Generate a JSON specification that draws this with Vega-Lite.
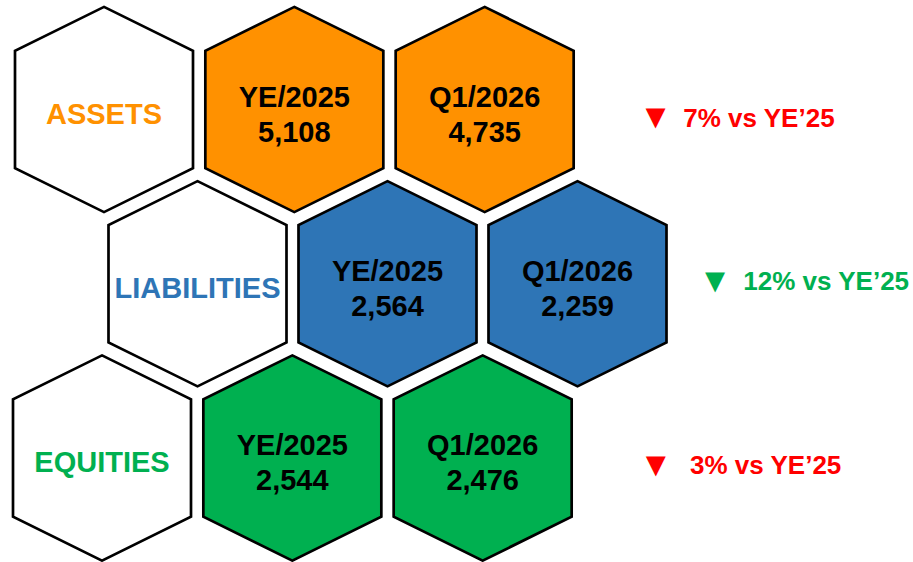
{
  "$schema": "https://vega.github.io/schema/vega-lite/v6.json",
  "width": 913,
  "height": 562,
  "autosize": {"type": "none"},
  "padding": 0,
  "background": "white",
  "config": {
    "view": {"stroke": null},
    "text": {"font": "Liberation Sans", "fontWeight": "bold"}
  },
  "datasets": {
    "hexes": [
      {"metric": "ASSETS", "period": "label", "caption": "ASSETS", "value": null},
      {"metric": "ASSETS", "period": "YE/2025", "caption": "YE/2025", "value": 5108},
      {"metric": "ASSETS", "period": "Q1/2026", "caption": "Q1/2026", "value": 4735},
      {"metric": "LIABILITIES", "period": "label", "caption": "LIABILITIES", "value": null},
      {"metric": "LIABILITIES", "period": "YE/2025", "caption": "YE/2025", "value": 2564},
      {"metric": "LIABILITIES", "period": "Q1/2026", "caption": "Q1/2026", "value": 2259},
      {"metric": "EQUITIES", "period": "label", "caption": "EQUITIES", "value": null},
      {"metric": "EQUITIES", "period": "YE/2025", "caption": "YE/2025", "value": 2544},
      {"metric": "EQUITIES", "period": "Q1/2026", "caption": "Q1/2026", "value": 2476}
    ],
    "changes": [
      {"metric": "ASSETS", "period": "change", "pct": 7, "label": "7% vs YE’25", "direction": "down", "assessment": "unfavorable"},
      {"metric": "LIABILITIES", "period": "change", "pct": 12, "label": "12% vs YE’25", "direction": "down", "assessment": "favorable"},
      {"metric": "EQUITIES", "period": "change", "pct": 3, "label": "3% vs YE’25", "direction": "down", "assessment": "unfavorable"}
    ]
  },
  "resolve": {"scale": {"x": "independent"}},
  "layer": [
    {
      "encoding": {
        "x": {"field": "period", "type": "nominal", "axis": null, "scale": {"type": "point", "domain": ["label", "YE/2025", "Q1/2026", "change"], "range": [104, 675], "padding": 0}},
        "y": {"field": "metric", "type": "nominal", "axis": null, "scale": {"type": "point", "domain": ["ASSETS", "LIABILITIES", "EQUITIES"], "range": [109.5, 458], "padding": 0}}
      },
      "layer": [
        {
          "data": {"name": "hexes"},
          "transform": [{"filter": "datum.metric === 'ASSETS'"}],
          "mark": {"type": "point", "shape": "M0,-1.153L1,-0.66L1,0.66L0,1.153L-1,0.66L-1,-0.66Z", "size": 31684, "filled": true, "stroke": "black", "strokeWidth": 2.7, "opacity": 1},
          "encoding": {"fill": {"condition": {"test": "datum.period === 'label'", "value": "white"}, "field": "metric", "type": "nominal", "legend": null, "scale": {"domain": ["ASSETS", "LIABILITIES", "EQUITIES"], "range": ["#FF9100", "#2E75B6", "#00B050"]}}}
        },
        {
          "data": {"name": "hexes"},
          "transform": [{"filter": "datum.metric === 'ASSETS' && datum.period === 'label'"}],
          "mark": {"type": "text", "fontSize": 29, "baseline": "alphabetic", "dy": 14},
          "encoding": {"text": {"field": "caption"}, "fill": {"field": "metric", "type": "nominal", "legend": null}}
        },
        {
          "data": {"name": "hexes"},
          "transform": [{"filter": "datum.metric === 'ASSETS' && datum.period !== 'label'"}],
          "mark": {"type": "text", "fontSize": 29, "baseline": "alphabetic", "dy": -3, "fill": "black"},
          "encoding": {"text": {"field": "caption"}}
        },
        {
          "data": {"name": "hexes"},
          "transform": [{"filter": "datum.metric === 'ASSETS' && datum.period !== 'label'"}],
          "mark": {"type": "text", "fontSize": 29, "baseline": "alphabetic", "dy": 32, "fill": "black"},
          "encoding": {"text": {"field": "value", "type": "quantitative", "format": ","}}
        },
        {
          "data": {"name": "changes"},
          "transform": [{"filter": "datum.metric === 'ASSETS'"}],
          "mark": {"type": "text", "fontSize": 34, "baseline": "middle", "align": "center", "dx": -19.5, "dy": 8.5},
          "encoding": {"text": {"condition": {"test": "datum.direction === 'down'", "value": "▼"}, "value": "▲"}, "color": {"field": "assessment", "type": "nominal", "legend": null, "scale": {"domain": ["unfavorable", "favorable"], "range": ["#FF0000", "#00B050"]}}}
        },
        {
          "data": {"name": "changes"},
          "transform": [{"filter": "datum.metric === 'ASSETS'"}],
          "mark": {"type": "text", "fontSize": 26, "baseline": "alphabetic", "align": "left", "dx": 8.3, "dy": 17},
          "encoding": {"text": {"field": "label"}, "color": {"field": "assessment", "type": "nominal", "legend": null}}
        }
      ]
    },
    {
      "encoding": {
        "x": {"field": "period", "type": "nominal", "axis": null, "scale": {"type": "point", "domain": ["label", "YE/2025", "Q1/2026", "change"], "range": [197.5, 767.5], "padding": 0}},
        "y": {"field": "metric", "type": "nominal", "axis": null}
      },
      "layer": [
        {
          "data": {"name": "hexes"},
          "transform": [{"filter": "datum.metric === 'LIABILITIES'"}],
          "mark": {"type": "point", "shape": "M0,-1.153L1,-0.66L1,0.66L0,1.153L-1,0.66L-1,-0.66Z", "size": 31684, "filled": true, "stroke": "black", "strokeWidth": 2.7, "opacity": 1},
          "encoding": {"fill": {"condition": {"test": "datum.period === 'label'", "value": "white"}, "field": "metric", "type": "nominal", "legend": null}}
        },
        {
          "data": {"name": "hexes"},
          "transform": [{"filter": "datum.metric === 'LIABILITIES' && datum.period === 'label'"}],
          "mark": {"type": "text", "fontSize": 29, "baseline": "alphabetic", "dy": 14},
          "encoding": {"text": {"field": "caption"}, "fill": {"field": "metric", "type": "nominal", "legend": null}}
        },
        {
          "data": {"name": "hexes"},
          "transform": [{"filter": "datum.metric === 'LIABILITIES' && datum.period !== 'label'"}],
          "mark": {"type": "text", "fontSize": 29, "baseline": "alphabetic", "dy": -3, "fill": "black"},
          "encoding": {"text": {"field": "caption"}}
        },
        {
          "data": {"name": "hexes"},
          "transform": [{"filter": "datum.metric === 'LIABILITIES' && datum.period !== 'label'"}],
          "mark": {"type": "text", "fontSize": 29, "baseline": "alphabetic", "dy": 32, "fill": "black"},
          "encoding": {"text": {"field": "value", "type": "quantitative", "format": ","}}
        },
        {
          "data": {"name": "changes"},
          "transform": [{"filter": "datum.metric === 'LIABILITIES'"}],
          "mark": {"type": "text", "fontSize": 34, "baseline": "middle", "align": "center", "dx": -52.5, "dy": -1.75},
          "encoding": {"text": {"condition": {"test": "datum.direction === 'down'", "value": "▼"}, "value": "▲"}, "color": {"field": "assessment", "type": "nominal", "legend": null}}
        },
        {
          "data": {"name": "changes"},
          "transform": [{"filter": "datum.metric === 'LIABILITIES'"}],
          "mark": {"type": "text", "fontSize": 26, "baseline": "alphabetic", "align": "left", "dx": -24.2, "dy": 6.5},
          "encoding": {"text": {"field": "label"}, "color": {"field": "assessment", "type": "nominal", "legend": null}}
        }
      ]
    },
    {
      "encoding": {
        "x": {"field": "period", "type": "nominal", "axis": null, "scale": {"type": "point", "domain": ["label", "YE/2025", "Q1/2026", "change"], "range": [102, 673], "padding": 0}},
        "y": {"field": "metric", "type": "nominal", "axis": null}
      },
      "layer": [
        {
          "data": {"name": "hexes"},
          "transform": [{"filter": "datum.metric === 'EQUITIES'"}],
          "mark": {"type": "point", "shape": "M0,-1.153L1,-0.66L1,0.66L0,1.153L-1,0.66L-1,-0.66Z", "size": 31684, "filled": true, "stroke": "black", "strokeWidth": 2.7, "opacity": 1},
          "encoding": {"fill": {"condition": {"test": "datum.period === 'label'", "value": "white"}, "field": "metric", "type": "nominal", "legend": null}}
        },
        {
          "data": {"name": "hexes"},
          "transform": [{"filter": "datum.metric === 'EQUITIES' && datum.period === 'label'"}],
          "mark": {"type": "text", "fontSize": 29, "baseline": "alphabetic", "dy": 14},
          "encoding": {"text": {"field": "caption"}, "fill": {"field": "metric", "type": "nominal", "legend": null}}
        },
        {
          "data": {"name": "hexes"},
          "transform": [{"filter": "datum.metric === 'EQUITIES' && datum.period !== 'label'"}],
          "mark": {"type": "text", "fontSize": 29, "baseline": "alphabetic", "dy": -3, "fill": "black"},
          "encoding": {"text": {"field": "caption"}}
        },
        {
          "data": {"name": "hexes"},
          "transform": [{"filter": "datum.metric === 'EQUITIES' && datum.period !== 'label'"}],
          "mark": {"type": "text", "fontSize": 29, "baseline": "alphabetic", "dy": 32, "fill": "black"},
          "encoding": {"text": {"field": "value", "type": "quantitative", "format": ","}}
        },
        {
          "data": {"name": "changes"},
          "transform": [{"filter": "datum.metric === 'EQUITIES'"}],
          "mark": {"type": "text", "fontSize": 34, "baseline": "middle", "align": "center", "dx": -17.2, "dy": 8},
          "encoding": {"text": {"condition": {"test": "datum.direction === 'down'", "value": "▼"}, "value": "▲"}, "color": {"field": "assessment", "type": "nominal", "legend": null}}
        },
        {
          "data": {"name": "changes"},
          "transform": [{"filter": "datum.metric === 'EQUITIES'"}],
          "mark": {"type": "text", "fontSize": 26, "baseline": "alphabetic", "align": "left", "dx": 17, "dy": 16},
          "encoding": {"text": {"field": "label"}, "color": {"field": "assessment", "type": "nominal", "legend": null}}
        }
      ]
    }
  ]
}
